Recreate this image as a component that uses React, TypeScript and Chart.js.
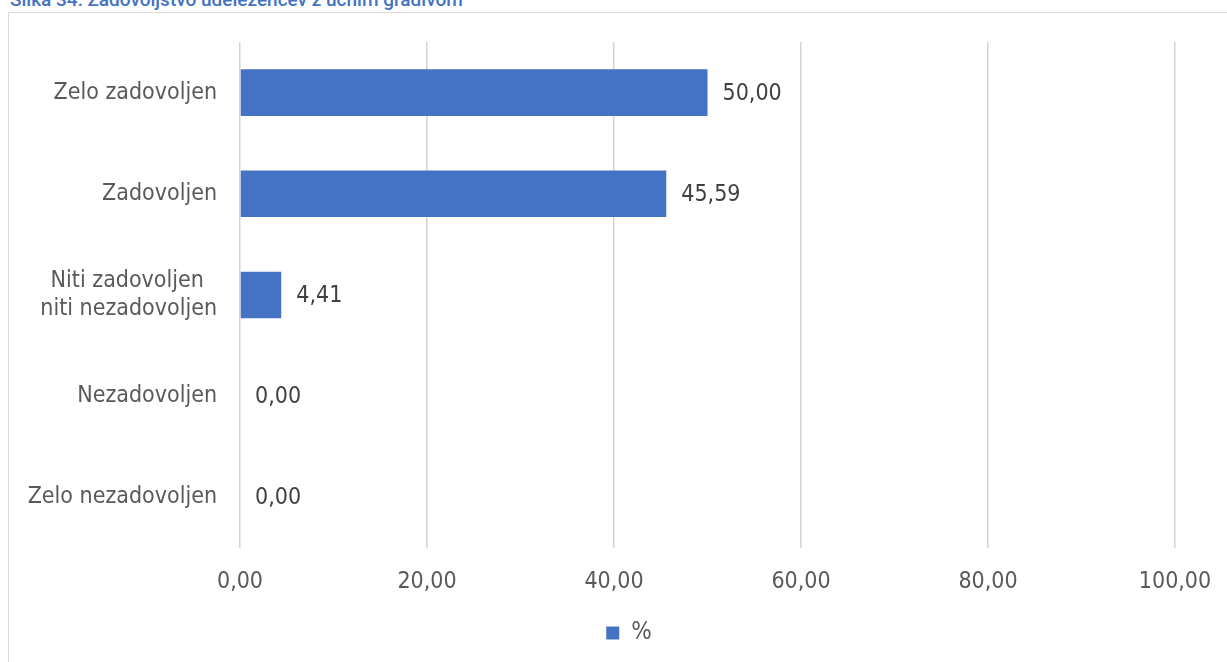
import React, { useEffect, useRef } from "react";
import { Chart, registerables } from "chart.js";

Chart.register(...registerables);

const titleText = "Slika 34: Zadovoljstvo udeležencev z učnim gradivom";
const categories: (string | string[])[] = [
  "Zelo zadovoljen",
  "Zadovoljen",
  ["Niti zadovoljen  ", "niti nezadovoljen"],
  "Nezadovoljen",
  "Zelo nezadovoljen",
];
const values = [50.0, 45.59, 4.41, 0.0, 0.0];
const seriesName = "%";
const xTicks = [0, 20, 40, 60, 80, 100];

const FONT = "'DejaVu Sans Condensed', 'DejaVu Sans', sans-serif";
const BLUE = "#4472C4";
const fmt = (v: number) => v.toFixed(2).replace(".", ",");

const dataLabels = {
  id: "dataLabels",
  afterDatasetsDraw(chart: any) {
    const ctx = chart.ctx;
    const meta = chart.getDatasetMeta(0);
    ctx.save();
    ctx.font = `23px ${FONT}`;
    ctx.fillStyle = "#404040";
    ctx.textAlign = "left";
    ctx.textBaseline = "middle";
    meta.data.forEach((el: any, i: number) => {
      ctx.fillText(fmt(values[i]), el.x + 15, el.y + 1);
    });
    ctx.restore();
  },
};

const legendShift = {
  id: "legendShift",
  afterLayout(chart: any) {
    if (chart.legend) {
      chart.legend.left += 41.5;
      chart.legend.right += 41.5;
    }
  },
};

export default function App() {
  const ref = useRef<HTMLCanvasElement>(null);
  useEffect(() => {
    if (!ref.current) return;
    const chart = new Chart(ref.current, {
      type: "bar",
      data: {
        labels: categories,
        datasets: [
          {
            label: seriesName,
            data: values,
            backgroundColor: BLUE,
            borderWidth: 0,
            barPercentage: 0.46,
            categoryPercentage: 1,
          },
        ],
      },
      options: {
        indexAxis: "y",
        animation: false,
        responsive: false,
        maintainAspectRatio: false,
        layout: { padding: { top: 42, right: 52, left: 0, bottom: 7 } },
        plugins: {
          legend: {
            position: "bottom",
            labels: {
              boxWidth: 13,
              boxHeight: 13,
              color: "#595959",
              font: { family: FONT, size: 24 },
              padding: 10,
            },
          },
          tooltip: { enabled: false },
          title: { display: false },
        },
        scales: {
          x: {
            min: 0,
            max: 100,
            afterBuildTicks: (s: any) => {
              s.ticks = xTicks.map((v) => ({ value: v }));
            },
            afterFit: (s: any) => {
              s.height = 63;
              s.paddingRight = 0;
              s.paddingLeft = 0;
            },
            ticks: {
              callback: (v: any) => fmt(Number(v)),
              color: "#595959",
              font: { family: FONT, size: 23 },
              padding: 20,
              maxRotation: 0,
            },
            grid: { color: "#d4d4d4", lineWidth: 1.5, drawTicks: false },
            border: { display: false },
          },
          y: {
            afterFit: (s: any) => {
              s.width = 240;
            },
            ticks: {
              color: "#595959",
              font: { family: FONT, size: 23 },
              padding: 23,
            },
            grid: { display: false, drawTicks: false },
            border: { display: false },
          },
        },
      },
      plugins: [dataLabels, legendShift],
    });
    return () => chart.destroy();
  }, []);

  return (
    <div style={{ position: "fixed", left: 0, top: 0, width: 1227, height: 662, overflow: "hidden", background: "#fff" }}>
      <div
        style={{
          position: "absolute",
          left: 8,
          top: 12,
          width: 1300,
          height: 700,
          borderLeft: "1.5px solid #d9d9d9",
          borderTop: "1.5px solid #d9d9d9",
          boxSizing: "border-box",
        }}
      />
      <div
        style={{
          position: "absolute",
          left: 10,
          top: -13,
          fontFamily: "Roboto, sans-serif",
          fontWeight: 500,
          fontSize: 19,
          lineHeight: "26px",
          color: BLUE,
          whiteSpace: "nowrap",
        }}
      >
        {titleText}
      </div>
      <canvas ref={ref} width={1227} height={662} style={{ position: "absolute", left: 0, top: 0 }} />
    </div>
  );
}
